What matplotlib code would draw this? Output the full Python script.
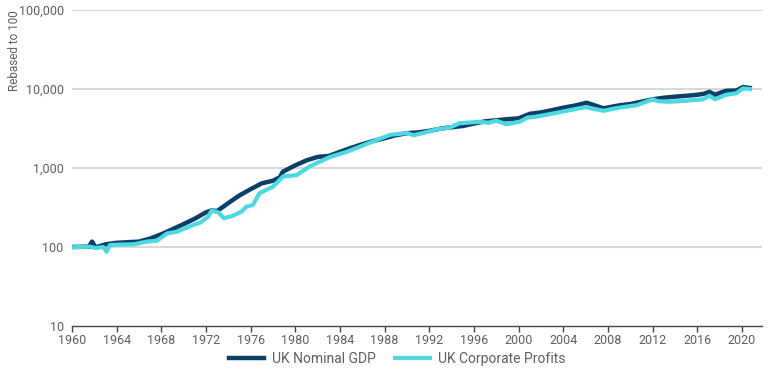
import numpy as np
import matplotlib
matplotlib.use("Agg")
import matplotlib.pyplot as plt
from matplotlib.ticker import FixedLocator, FuncFormatter

##values (rebased to 100 in 1960)
gdpYears = [1960, 1961.5, 1961.8, 1962.1, 1963, 1964, 1965, 1966, 1967, 1968,
            1969, 1970, 1971, 1972, 1972.5, 1973, 1973.5, 1974, 1975, 1976,
            1977, 1978, 1978.6, 1978.9, 1980, 1981, 1982, 1983, 1984, 1985,
            1986, 1987, 1988, 1989, 1990, 1991, 1992, 1993, 1994, 1995,
            1996, 1997, 1998, 1999, 2000, 2001, 2002, 2003, 2004, 2005,
            2006.1, 2007.6, 2009, 2010, 2011, 2012, 2013, 2014,
            2015, 2016, 2016.6, 2017.1, 2017.6, 2018, 2018.6, 2019.5, 2020.1, 2020.7]
gdpValues = [100, 101, 117, 99, 108, 113, 115, 117, 128, 145,
             168, 195, 228, 275, 290, 285, 320, 360, 450, 540,
             640, 690, 760, 900, 1080, 1250, 1380, 1420, 1600, 1800,
             2000, 2200, 2380, 2600, 2760, 2820, 2950, 3150, 3280, 3400,
             3650, 3900, 4020, 4150, 4250, 4850, 5050, 5400, 5800, 6150,
             6700, 5700, 6200, 6450, 6900, 7400, 7750, 8000,
             8200, 8450, 8700, 9200, 8450, 8900, 9500, 9550, 10600, 10300]

profitYears = [1960, 1961.6, 1962.1, 1962.8, 1963.1, 1963.4, 1964, 1965.5, 1966.7, 1967.6,
               1968.5, 1969.4, 1970.6, 1971.5, 1972.2, 1972.5, 1973.1, 1973.6, 1974.4, 1975.2,
               1975.6, 1976.2, 1976.8, 1978, 1978.9, 1980.1, 1981.3, 1983.1, 1984.6, 1986.7,
               1988.5, 1990, 1990.6, 1991.8, 1992.7, 1993.8, 1994.7, 1996.5, 1997.3, 1998,
               1998.9, 2000.1, 2000.8, 2001.5, 2003, 2004.6, 2006, 2007.6, 2009, 2010.6,
               2012, 2012.5, 2013.5, 2015, 2016.5, 2017.1, 2017.6, 2018.6, 2019.5, 2020.1, 2020.7]
profitValues = [99, 101, 97, 100, 87, 106, 107, 108, 117, 120,
                148, 156, 184, 204, 242, 288, 275, 232, 248, 281,
                323, 340, 480, 580, 780, 810, 1050, 1380, 1600, 2100,
                2630, 2770, 2600, 2860, 3100, 3240, 3680, 3850, 3740, 3970,
                3580, 3850, 4350, 4450, 4870, 5400, 5900, 5300, 5800, 6250,
                7400, 7000, 6900, 7100, 7400, 8200, 7400, 8450, 8850, 10200, 10000]

xTicks = list(range(1960, 2021, 4))
yTicks = [10, 100, 1000, 10000, 100000]

textColor = "#5f5f5f"
plt.rcParams['font.family'] = ['Roboto', 'DejaVu Sans']

fig = plt.figure(figsize=(7.7, 3.73), dpi=100)
ax = fig.add_axes([72/770, 1 - 326/373, (762 - 72)/770, (326 - 10)/373])

ax.set_yscale("log")
ax.set_ylim(10, 100000)
ax.set_xlim(1960, 2021.8)

##gridlines first so the lines sit on top
for v in yTicks[1:]:
    ax.axhline(v, color="#d9d9d9", linewidth=1.5, zorder=1)

ax.plot(gdpYears, gdpValues, color="#0c3f66", linewidth=3.2,
        label="UK Nominal GDP", zorder=3, solid_joinstyle="round")
ax.plot(profitYears, profitValues, color="#4dd8e2", linewidth=3.0,
        label="UK Corporate Profits", zorder=4, solid_joinstyle="round")

ax.yaxis.set_major_locator(FixedLocator(yTicks))
ax.yaxis.set_minor_locator(FixedLocator([]))
ax.yaxis.set_major_formatter(FuncFormatter(lambda v, p: "{:,.0f}".format(v)))
ax.set_xticks(xTicks)

for s in ["top", "right", "left"]:
    ax.spines[s].set_visible(False)
ax.spines["bottom"].set_color("#444444")
ax.spines["bottom"].set_linewidth(1.0)

ax.tick_params(axis="y", length=0, pad=6, labelsize=9, labelcolor=textColor)
ax.tick_params(axis="x", length=4, width=1, color="#444444", pad=2,
               labelsize=9, labelcolor=textColor)

fig.text(8/770, 1 - 10/373, "Rebased to 100", rotation=90, va="top", ha="left",
         fontsize=8.5, color=textColor)

fig.legend(loc="lower center", ncol=2, bbox_to_anchor=(0.516, -0.015),
           frameon=False, fontsize=10, labelcolor=textColor,
           handlelength=2.5, columnspacing=1.4, handletextpad=0.6)

fig.savefig("out.png", dpi=100)
